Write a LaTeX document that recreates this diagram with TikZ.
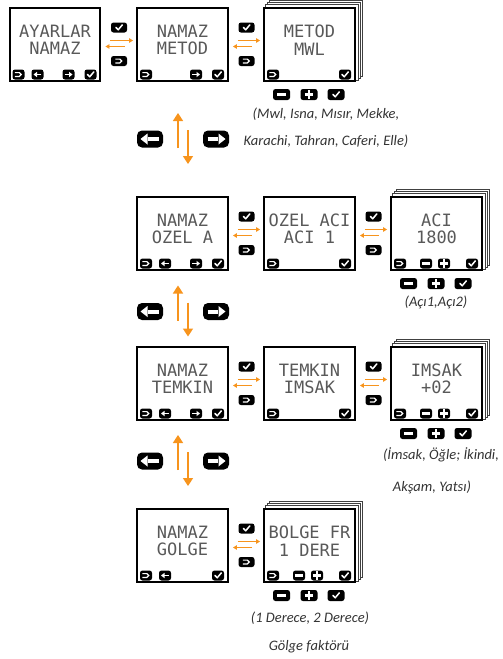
\documentclass[tikz,border=0pt]{standalone}
\usepackage{fontspec}
\setmainfont{Carlito}
\newfontfamily\lcdfont{DejaVu Sans Mono}
\usetikzlibrary{arrows.meta,backgrounds}
\definecolor{flow}{HTML}{F7941D}

\begin{document}
\begin{tikzpicture}[
    x=1pt, y=-1pt,
    > = {Triangle[length=4pt,width=4.5pt]}, % small orange heads
    screen/.style={draw, fill=white, line width=2.4pt, minimum width=90.5pt, minimum height=73.5pt, inner sep=0pt},
    layer/.style={draw=black!75, fill=white, line width=0.7pt},
    lcd/.style={font=\lcdfont\fontsize{17}{17.5}\selectfont, align=center, inner sep=0pt, text=black!65},
    key/.style={fill=black, rounded corners=2.5pt, inner sep=0pt, minimum width=12pt, minimum height=10pt},
    gapkey/.style={key, minimum width=16pt},
    outkey/.style={key, minimum width=17pt, minimum height=11pt},
    bigkey/.style={key, minimum width=26pt, minimum height=17pt, rounded corners=5pt},
    sym/.style={white, sharp corners, shift={(path picture bounding box.center)}},
    okay/.style={path picture={\draw[sym, line width=1.5pt, line cap=round, line join=round] (-3pt,0pt) -- (-0.8pt,-2.3pt) -- (3.3pt,2.6pt);}},
    goback/.style={path picture={\draw[sym, line width=1.2pt] (-3.6pt,1.9pt) -- (0.8pt,1.9pt) arc[start angle=90, end angle=-90, radius=1.9pt] -- (-3.6pt,-1.9pt);}},
    goprev/.style={path picture={\draw[sym, line width=1.4pt] (3.8pt,0pt) -- (-1pt,0pt);
        \fill[sym] (-4pt,0pt) -- (-0.5pt,2.7pt) -- (-0.5pt,-2.7pt) -- cycle;}},
    gonext/.style={path picture={\draw[sym, line width=1.4pt] (-3.8pt,0pt) -- (1pt,0pt);
        \fill[sym] (4pt,0pt) -- (0.5pt,2.7pt) -- (0.5pt,-2.7pt) -- cycle;}},
    dec/.style={path picture={\draw[sym, line width=2.2pt] (-4.2pt,0pt) -- (4.2pt,0pt);}},
    inc/.style={path picture={\draw[sym, line width=2.2pt] (-4.2pt,0pt) -- (4.2pt,0pt) (0pt,-4.2pt) -- (0pt,4.2pt);}},
    bigprev/.style={path picture={\draw[sym, line width=4pt] (8.5pt,0pt) -- (-2pt,0pt);
        \fill[sym] (-9.5pt,0pt) -- (-2.5pt,5.5pt) -- (-2.5pt,-5.5pt) -- cycle;}},
    bignext/.style={path picture={\draw[sym, line width=4pt] (-8.5pt,0pt) -- (2pt,0pt);
        \fill[sym] (9.5pt,0pt) -- (2.5pt,5.5pt) -- (2.5pt,-5.5pt) -- cycle;}},
    flowline/.style={draw=flow, line width=0.9pt, ->},
    bigflow/.style={draw=flow, line width=1.6pt, -{Triangle[length=8pt,width=10pt]}},
    caption/.style={font=\itshape\fontsize{14.5}{16}\selectfont, text=black!80, inner sep=0pt}
    ]

    \useasboundingbox (0,0) rectangle (503,659);

    % ---- row 1 ----
    \node[screen] (s11) at (55,44.5) {};
    \node[screen] (s12) at (182.5,44.5) {};
    \node[screen] (s13) at (309.5,44.5) {};
    \node[lcd] (t11) at ([yshift=4.5pt]s11.center) {AYARLAR\\NAMAZ};
    \node[lcd] (t12) at ([yshift=4.5pt]s12.center) {NAMAZ\\METOD};
    \node[lcd] (t13) at ([yshift=4.5pt]s13.center) {METOD\\MWL};

    \node[key,goback] (s11b) at ([xshift=-36.5pt,yshift=-30pt]s11.center) {};
    \node[key,goprev] (s11p) at ([xshift=-17.5pt,yshift=-30pt]s11.center) {};
    \node[key,gonext] (s11n) at ([xshift=13.5pt,yshift=-30pt]s11.center) {};
    \node[key,okay] (s11o) at ([xshift=35.5pt,yshift=-30pt]s11.center) {};
    \node[key,goback] (s12b) at ([xshift=-36.5pt,yshift=-30pt]s12.center) {};
    \node[key,gonext] (s12n) at ([xshift=13.5pt,yshift=-30pt]s12.center) {};
    \node[key,okay] (s12o) at ([xshift=35.5pt,yshift=-30pt]s12.center) {};
    \node[key,goback] (s13b) at ([xshift=-36.5pt,yshift=-30pt]s13.center) {};
    \node[key,okay] (s13o) at ([xshift=35.5pt,yshift=-30pt]s13.center) {};

    \node[gapkey,okay] (g11o) at ([xshift=64pt,yshift=17pt]s11.center) {};
    \node[gapkey,goback] (g11b) at ([xshift=64pt,yshift=-16.5pt]s11.center) {};
    \node[gapkey,okay] (g12o) at ([xshift=64pt,yshift=17pt]s12.center) {};
    \node[gapkey,goback] (g12b) at ([xshift=64pt,yshift=-16.5pt]s12.center) {};
    \draw[flowline] ([xshift=9pt,yshift=4pt]s11.east) -- ([xshift=-3pt,yshift=4pt]s12.west);
    \draw[flowline] ([xshift=-11pt,yshift=-2pt]s12.west) -- ([xshift=4pt,yshift=-2pt]s11.east);
    \draw[flowline] ([xshift=9pt,yshift=4pt]s12.east) -- ([xshift=-3pt,yshift=4pt]s13.west);
    \draw[flowline] ([xshift=-11pt,yshift=-2pt]s13.west) -- ([xshift=4pt,yshift=-2pt]s12.east);

    \node[outkey,dec] (u13d) at ([xshift=-28pt,yshift=-50pt]s13.center) {};
    \node[outkey,inc] (u13i) at ([xshift=-0.5pt,yshift=-50pt]s13.center) {};
    \node[outkey,okay] (u13o) at ([xshift=26.5pt,yshift=-50pt]s13.center) {};
    \node[caption] (c1a) at (326,114) {(Mwl, Isna, Mısır, Mekke,};
    \node[caption] (c1b) at (326,141) {Karachi, Tahran, Caferi, Elle)};

    \node[bigkey,bigprev] (bl1) at (150,139) {};
    \node[bigkey,bignext] (br1) at (216,139) {};
    \draw[bigflow] ([xshift=28pt,yshift=-9pt]bl1.center) -- ([xshift=28pt,yshift=26pt]bl1.center);
    \draw[bigflow] ([xshift=-28pt,yshift=9pt]br1.center) -- ([xshift=-28pt,yshift=-25pt]br1.center);

    % ---- row 2 ----
    \node[screen] (s21) at (182.5,233.5) {};
    \node[screen] (s22) at (309.5,233.5) {};
    \node[screen] (s23) at (436.5,233.5) {};
    \node[lcd] (t21) at ([yshift=4.5pt]s21.center) {NAMAZ\\OZEL A};
    \node[lcd] (t22) at ([yshift=4.5pt]s22.center) {OZEL ACI\\ACI 1};
    \node[lcd] (t23) at ([yshift=4.5pt]s23.center) {ACI\\1800};

    \node[key,goback] (s21b) at ([xshift=-36.5pt,yshift=-30pt]s21.center) {};
    \node[key,goprev] (s21p) at ([xshift=-17.5pt,yshift=-30pt]s21.center) {};
    \node[key,gonext] (s21n) at ([xshift=13.5pt,yshift=-30pt]s21.center) {};
    \node[key,okay] (s21o) at ([xshift=35.5pt,yshift=-30pt]s21.center) {};
    \node[key,goback] (s22b) at ([xshift=-36.5pt,yshift=-30pt]s22.center) {};
    \node[key,okay] (s22o) at ([xshift=35.5pt,yshift=-30pt]s22.center) {};
    \node[key,goback] (s23b) at ([xshift=-36.5pt,yshift=-30pt]s23.center) {};
    \node[key,dec] (s23d) at ([xshift=-10.5pt,yshift=-30pt]s23.center) {};
    \node[key,inc] (s23i) at ([xshift=7.5pt,yshift=-30pt]s23.center) {};
    \node[key,okay] (s23o) at ([xshift=35.5pt,yshift=-30pt]s23.center) {};

    \node[gapkey,okay] (g21o) at ([xshift=64pt,yshift=17pt]s21.center) {};
    \node[gapkey,goback] (g21b) at ([xshift=64pt,yshift=-16.5pt]s21.center) {};
    \node[gapkey,okay] (g22o) at ([xshift=64pt,yshift=17pt]s22.center) {};
    \node[gapkey,goback] (g22b) at ([xshift=64pt,yshift=-16.5pt]s22.center) {};
    \draw[flowline] ([xshift=9pt,yshift=4pt]s21.east) -- ([xshift=-3pt,yshift=4pt]s22.west);
    \draw[flowline] ([xshift=-11pt,yshift=-2pt]s22.west) -- ([xshift=4pt,yshift=-2pt]s21.east);
    \draw[flowline] ([xshift=9pt,yshift=4pt]s22.east) -- ([xshift=-3pt,yshift=4pt]s23.west);
    \draw[flowline] ([xshift=-11pt,yshift=-2pt]s23.west) -- ([xshift=4pt,yshift=-2pt]s22.east);

    \node[outkey,dec] (u23d) at ([xshift=-28pt,yshift=-50pt]s23.center) {};
    \node[outkey,inc] (u23i) at ([xshift=-0.5pt,yshift=-50pt]s23.center) {};
    \node[outkey,okay] (u23o) at ([xshift=26.5pt,yshift=-50pt]s23.center) {};
    \node[caption] (c2) at (436,302) {(Açı1,Açı2)};

    \node[bigkey,bigprev] (bl2) at (150,311.5) {};
    \node[bigkey,bignext] (br2) at (216,311.5) {};
    \draw[bigflow] ([xshift=28pt,yshift=-9pt]bl2.center) -- ([xshift=28pt,yshift=26pt]bl2.center);
    \draw[bigflow] ([xshift=-28pt,yshift=9pt]br2.center) -- ([xshift=-28pt,yshift=-25pt]br2.center);

    % ---- row 3 ----
    \node[screen] (s31) at (182.5,383.5) {};
    \node[screen] (s32) at (309.5,383.5) {};
    \node[screen] (s33) at (436.5,383.5) {};
    \node[lcd] (t31) at ([yshift=4.5pt]s31.center) {NAMAZ\\TEMKIN};
    \node[lcd] (t32) at ([yshift=4.5pt]s32.center) {TEMKIN\\IMSAK};
    \node[lcd] (t33) at ([yshift=4.5pt]s33.center) {IMSAK\\+02};

    \node[key,goback] (s31b) at ([xshift=-36.5pt,yshift=-30pt]s31.center) {};
    \node[key,goprev] (s31p) at ([xshift=-17.5pt,yshift=-30pt]s31.center) {};
    \node[key,gonext] (s31n) at ([xshift=13.5pt,yshift=-30pt]s31.center) {};
    \node[key,okay] (s31o) at ([xshift=35.5pt,yshift=-30pt]s31.center) {};
    \node[key,goback] (s32b) at ([xshift=-36.5pt,yshift=-30pt]s32.center) {};
    \node[key,okay] (s32o) at ([xshift=35.5pt,yshift=-30pt]s32.center) {};
    \node[key,goback] (s33b) at ([xshift=-36.5pt,yshift=-30pt]s33.center) {};
    \node[key,dec] (s33d) at ([xshift=-10.5pt,yshift=-30pt]s33.center) {};
    \node[key,inc] (s33i) at ([xshift=7.5pt,yshift=-30pt]s33.center) {};
    \node[key,okay] (s33o) at ([xshift=35.5pt,yshift=-30pt]s33.center) {};

    \node[gapkey,okay] (g31o) at ([xshift=64pt,yshift=17pt]s31.center) {};
    \node[gapkey,goback] (g31b) at ([xshift=64pt,yshift=-16.5pt]s31.center) {};
    \node[gapkey,okay] (g32o) at ([xshift=64pt,yshift=17pt]s32.center) {};
    \node[gapkey,goback] (g32b) at ([xshift=64pt,yshift=-16.5pt]s32.center) {};
    \draw[flowline] ([xshift=9pt,yshift=4pt]s31.east) -- ([xshift=-3pt,yshift=4pt]s32.west);
    \draw[flowline] ([xshift=-11pt,yshift=-2pt]s32.west) -- ([xshift=4pt,yshift=-2pt]s31.east);
    \draw[flowline] ([xshift=9pt,yshift=4pt]s32.east) -- ([xshift=-3pt,yshift=4pt]s33.west);
    \draw[flowline] ([xshift=-11pt,yshift=-2pt]s33.west) -- ([xshift=4pt,yshift=-2pt]s32.east);

    \node[outkey,dec] (u33d) at ([xshift=-28pt,yshift=-50pt]s33.center) {};
    \node[outkey,inc] (u33i) at ([xshift=-0.5pt,yshift=-50pt]s33.center) {};
    \node[outkey,okay] (u33o) at ([xshift=26.5pt,yshift=-50pt]s33.center) {};
    \node[caption] (c3a) at (441,455) {(İmsak, Öğle; İkindi,};
    \node[caption] (c3b) at (432,487) {Akşam, Yatsı)};

    \node[bigkey,bigprev] (bl3) at (150,461) {};
    \node[bigkey,bignext] (br3) at (216,461) {};
    \draw[bigflow] ([xshift=28pt,yshift=-9pt]bl3.center) -- ([xshift=28pt,yshift=26pt]bl3.center);
    \draw[bigflow] ([xshift=-28pt,yshift=9pt]br3.center) -- ([xshift=-28pt,yshift=-25pt]br3.center);

    % ---- row 4 ----
    \node[screen] (s41) at (182.5,545.5) {};
    \node[screen] (s42) at (309.5,545.5) {};
    \node[lcd] (t41) at ([yshift=4.5pt]s41.center) {NAMAZ\\GOLGE};
    \node[lcd] (t42) at ([yshift=4.5pt]s42.center) {BOLGE FR\\1 DERE};

    \node[key,goback] (s41b) at ([xshift=-36.5pt,yshift=-30pt]s41.center) {};
    \node[key,goprev] (s41p) at ([xshift=-17.5pt,yshift=-30pt]s41.center) {};
    \node[key,okay] (s41o) at ([xshift=35.5pt,yshift=-30pt]s41.center) {};
    \node[key,goback] (s42b) at ([xshift=-36.5pt,yshift=-30pt]s42.center) {};
    \node[key,dec] (s42d) at ([xshift=-10.5pt,yshift=-30pt]s42.center) {};
    \node[key,inc] (s42i) at ([xshift=7.5pt,yshift=-30pt]s42.center) {};
    \node[key,okay] (s42o) at ([xshift=35.5pt,yshift=-30pt]s42.center) {};

    \node[gapkey,okay] (g41o) at ([xshift=64pt,yshift=17pt]s41.center) {};
    \node[gapkey,goback] (g41b) at ([xshift=64pt,yshift=-16.5pt]s41.center) {};
    \draw[flowline] ([xshift=9pt,yshift=4pt]s41.east) -- ([xshift=-3pt,yshift=4pt]s42.west);
    \draw[flowline] ([xshift=-11pt,yshift=-2pt]s42.west) -- ([xshift=4pt,yshift=-2pt]s41.east);

    \node[outkey,dec] (u42d) at ([xshift=-28pt,yshift=-50pt]s42.center) {};
    \node[outkey,inc] (u42i) at ([xshift=-0.5pt,yshift=-50pt]s42.center) {};
    \node[outkey,okay] (u42o) at ([xshift=26.5pt,yshift=-50pt]s42.center) {};
    \node[caption] (c4a) at (310,618) {(1 Derece, 2 Derece)};
    \node[caption] (c4b) at (309,647) {Gölge faktörü};

    % stacked pages behind the value screens
    \begin{scope}[on background layer]
        \foreach \s in {s13,s23,s33,s42}
            \foreach \d in {6,4,2}
                \draw[layer] ([xshift=\d pt,yshift=\d pt]\s.south west) rectangle ([xshift=\d pt,yshift=\d pt]\s.north east);
    \end{scope}
\end{tikzpicture}
\end{document}
